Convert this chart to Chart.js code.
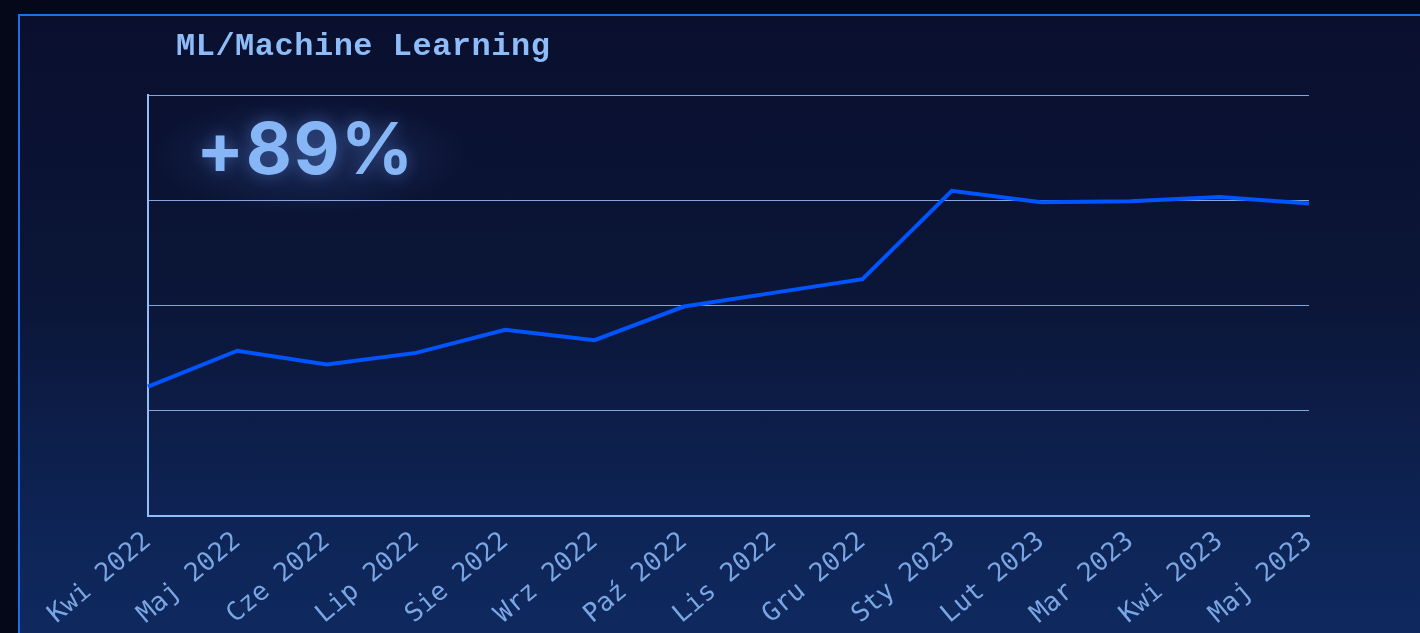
<!DOCTYPE html>
<html>
<head>
<meta charset="utf-8">
<script src="https://cdn.jsdelivr.net/npm/chart.js@4/dist/chart.umd.min.js"></script>
<style>
  html, body { margin: 0; padding: 0; width: 1420px; height: 633px; overflow: hidden; background: #050818; }
  #panel {
    position: absolute; left: 18px; top: 14px; width: 1420px; height: 640px;
    border: 2px solid #1f6ee6; box-sizing: border-box;
    background: linear-gradient(180deg, #0a0f2e 0%, #0b1638 45%, #0e2456 80%, #0f2a60 100%);
  }
  #glow {
    position: absolute; left: 150px; top: 95px; width: 320px; height: 120px;
    background: radial-gradient(ellipse at center, rgba(60,90,160,0.35) 0%, rgba(60,90,160,0) 70%);
  }
  #title {
    position: absolute; left: 176px; top: 28px; margin: 0;
    font-family: "Liberation Mono", "DejaVu Sans Mono", monospace; font-weight: bold;
    font-size: 32px; color: #8dbcf8; letter-spacing: 0.5px;
  }
  #bigval {
    position: absolute; left: 196px; top: 109px; margin: 0; line-height: 1.1;
    font-family: Inter, Roboto, sans-serif; font-weight: 700;
    font-size: 71px; color: #86b6f6; letter-spacing: 1.5px;
    text-shadow: 0 0 16px rgba(110,160,255,0.4);
  }
  #c { position: absolute; left: 0; top: 0; }
</style>
</head>
<body>
<div id="panel"></div>
<div id="glow"></div>
<canvas id="c" width="1420" height="633"></canvas>
<div id="title">ML/Machine Learning</div>
<div id="bigval">+89%</div>
<script>
const months = ["Kwi 2022","Maj 2022","Cze 2022","Lip 2022","Sie 2022","Wrz 2022","Paź 2022","Lis 2022","Gru 2022","Sty 2023","Lut 2023","Mar 2023","Kwi 2023","Maj 2023"];
const interest = [1.23, 1.57, 1.44, 1.55, 1.77, 1.67, 1.99, 2.12, 2.25, 3.09, 2.98, 2.99, 3.03, 2.97];
const yMin = 0, yMax = 4, yStep = 1;

new Chart(document.getElementById('c'), {
  type: 'line',
  data: {
    labels: months,
    datasets: [{
      data: interest,
      borderColor: '#0055ff',
      borderWidth: 4,
      pointRadius: 0,
      tension: 0,
      fill: false
    }]
  },
  options: {
    responsive: false,
    animation: false,
    layout: { padding: { left: 147, right: 111, top: 95, bottom: 0 } },
    plugins: { legend: { display: false }, tooltip: { enabled: false }, title: { display: false } },
    scales: {
      x: {
        grid: { display: false },
        border: { display: true, color: '#93bdf6', width: 2 },
        ticks: {
          color: '#7aa6e4',
          font: { family: '"DejaVu Sans Mono", "Liberation Mono", monospace', size: 26 },
          minRotation: 40, maxRotation: 40, autoSkip: false, padding: 2
        },
        afterFit: (s) => { s.height = 117; }
      },
      y: {
        min: yMin, max: yMax,
        ticks: { display: false, stepSize: yStep },
        grid: { color: '#7fa6e0', lineWidth: 1, drawTicks: false },
        border: { display: true, color: '#93bdf6', width: 2 },
        afterFit: (s) => { s.width = 1; }
      }
    }
  }
});
</script>
</body>
</html>
